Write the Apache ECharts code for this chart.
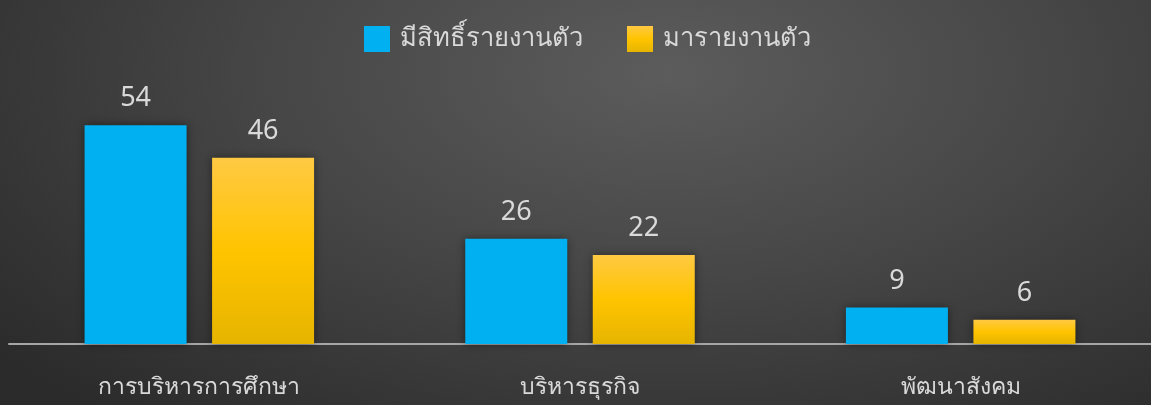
<!DOCTYPE html>
<html>
<head>
<meta charset="utf-8">
<script src="https://cdn.jsdelivr.net/npm/echarts@6/dist/echarts.min.js"></script>
<style>
  html, body { margin: 0; padding: 0; }
  #chart {
    width: 1151px;
    height: 405px;
    background: radial-gradient(ellipse 75% 110% at 58% 18%, #5c5c5c 0%, #474747 45%, #2b2b2b 100%);
  }
</style>
</head>
<body>
<div id="chart"></div>
<script>
const categories = ["การบริหารการศึกษา", "บริหารธุรกิจ", "พัฒนาสังคม"];
const seriesNames = ["มีสิทธิ์รายงานตัว", "มารายงานตัว"];
const eligible = [54, 26, 9];
const reported = [46, 22, 6];

const FONT = "'Noto Sans', 'DejaVu Sans', sans-serif";
const TEXT = "#d9d9d9";
const BLUE = "#00b0f0";

const yellow = new echarts.graphic.LinearGradient(0, 0, 0, 1, [
  { offset: 0, color: "#ffc943" },
  { offset: 0.5, color: "#ffc400" },
  { offset: 1, color: "#e6b400" },
]);

const chart = echarts.init(document.getElementById("chart"));

const valueLabel = {
  show: true,
  position: "top",
  distance: 13,
  color: TEXT,
  fontSize: 27,
  fontFamily: FONT,
};

chart.setOption({
  backgroundColor: "transparent",
  animation: false,
  legend: {
    top: 21,
    left: 359,
    itemWidth: 26,
    itemHeight: 26,
    itemGap: 44,
    icon: "rect",
    textStyle: { color: TEXT, fontSize: 25.5, fontFamily: FONT, padding: [0, 0, 0, 5] },
    data: seriesNames,
  },
  grid: { left: 9, right: 0, top: 101, bottom: 61 },
  xAxis: {
    type: "category",
    data: categories,
    axisLine: { lineStyle: { color: "#a6a6a6", width: 2 } },
    axisTick: { show: false },
    axisLabel: { color: TEXT, fontSize: 23, fontFamily: FONT, margin: 32 },
  },
  yAxis: {
    type: "value",
    min: 0,
    max: 60,
    show: false,
    splitLine: { show: false },
  },
  series: [
    {
      name: seriesNames[0],
      type: "bar",
      data: eligible,
      barWidth: 102,
      barGap: "25%",
      itemStyle: { color: BLUE, shadowColor: "rgba(0,0,0,0.45)", shadowBlur: 8 },
      label: valueLabel,
    },
    {
      name: seriesNames[1],
      type: "bar",
      data: reported,
      barWidth: 102,
      itemStyle: { color: yellow, shadowColor: "rgba(0,0,0,0.45)", shadowBlur: 8 },
      label: valueLabel,
    },
  ],
});
</script>
</body>
</html>
